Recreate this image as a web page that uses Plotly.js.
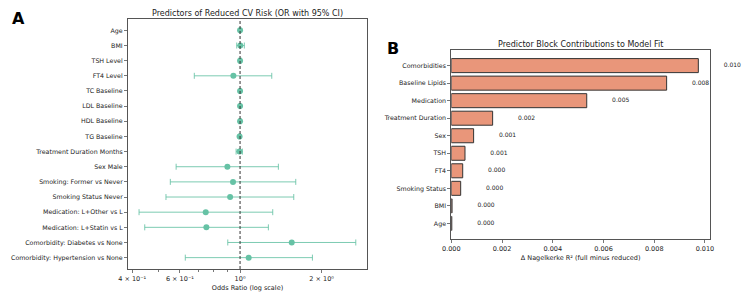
<!DOCTYPE html>
<html>
<head>
<meta charset="utf-8">
<script src="https://cdn.plot.ly/plotly-3.0.1.min.js"></script>
<style>html,body{margin:0;padding:0;background:#fff;}#chart{width:750px;height:300px;}</style>
</head>
<body>
<div id="chart"></div>
<script>
// Panel A: odds ratios with 95% CI
const predictors = ["Age","BMI","TSH Level","FT4 Level","TC Baseline","LDL Baseline","HDL Baseline","TG Baseline","Treatment Duration Months","Sex Male","Smoking: Former vs Never","Smoking Status Never","Medication: L+Other vs L","Medication: L+Statin vs L","Comorbidity: Diabetes vs None","Comorbidity: Hypertension vs None"];
const oddsRatio = [1.000, 1.002, 1.000, 0.945, 1.000, 1.000, 1.000, 0.996, 0.995, 0.898, 0.942, 0.919, 0.747, 0.751, 1.551, 1.076];
const ciLower  = [0.995, 0.972, 0.990, 0.678, 0.993, 0.994, 0.990, 0.990, 0.967, 0.581, 0.553, 0.533, 0.424, 0.445, 0.901, 0.628];
const ciUpper  = [1.005, 1.037, 1.010, 1.309, 1.007, 1.006, 1.010, 1.002, 1.020, 1.385, 1.605, 1.578, 1.320, 1.272, 2.673, 1.849];
const orTickVals = [0.4, 0.6, 1, 2];
const orTickText = ["4 × 10⁻¹", "6 × 10⁻¹", "10⁰", "2 × 10⁰"];
const orMinorTicks = [0.5, 0.7, 0.8, 0.9];

// Panel B: predictor block contributions
const blocks = ["Comorbidities","Baseline Lipids","Medication","Treatment Duration","Sex","TSH","FT4","Smoking Status","BMI","Age"];
const deltaR2 = [0.00974, 0.00849, 0.00534, 0.00163, 0.00088, 0.00054, 0.00045, 0.00037, 0.00003, 0.00002];
const r2TickVals = [0, 0.002, 0.004, 0.006, 0.008, 0.010];

const font = "DejaVu Sans, sans-serif";
const teal = "#66c2a5";

// geometry of panel B x axis (pixels) — used so the label axis shares the same scale
const bLeft = 451.3, bRight = 710, bMax = 0.0102;
const labelRight = 750;
const labelMax = bMax * (labelRight - bLeft) / (bRight - bLeft);

const traceA = {
  type: "scatter", mode: "markers",
  x: oddsRatio, y: predictors,
  xaxis: "x", yaxis: "y",
  marker: {color: teal, size: 6},
  error_x: {
    type: "data", symmetric: false,
    array: oddsRatio.map((v, i) => ciUpper[i] - v),
    arrayminus: oddsRatio.map((v, i) => v - ciLower[i]),
    color: "rgba(102,194,165,0.85)", thickness: 1, width: 3
  },
  hoverinfo: "skip"
};

const traceB = {
  type: "bar", orientation: "h",
  x: deltaR2, y: blocks,
  xaxis: "x2", yaxis: "y2",
  width: 0.8,
  marker: {color: "#e9967a", line: {color: "#333333", width: 1}},
  hoverinfo: "skip"
};

const traceBText = {
  type: "scatter", mode: "text",
  x: deltaR2.map(v => v + 0.001), y: blocks,
  xaxis: "x3", yaxis: "y2",
  text: deltaR2.map(v => v.toFixed(3)),
  textposition: "middle right",
  textfont: {family: font, size: 6, color: "#222"},
  cliponaxis: false,
  hoverinfo: "skip"
};

const axCommon = {
  showline: true, mirror: true, linecolor: "#555", linewidth: 1,
  ticks: "outside", ticklen: 3, tickcolor: "#555", tickwidth: 0.8,
  showgrid: false, zeroline: false,
  tickfont: {family: font, size: 6.3, color: "#222"}
};

const layout = {
  width: 750, height: 300,
  margin: {l: 0, r: 0, t: 0, b: 0},
  paper_bgcolor: "#fff", plot_bgcolor: "rgba(0,0,0,0)",
  showlegend: false,
  font: {family: font, color: "#222"},
  xaxis: Object.assign({}, axCommon, {
    type: "log", domain: [128/750, 367/750], anchor: "y",
    range: [Math.log10(0.386), Math.log10(2.94)],
    tickmode: "array", tickvals: orTickVals, ticktext: orTickText,
    tickfont: {family: font, size: 6.5, color: "#222"},
    minor: {tickmode: "array", tickvals: orMinorTicks, ticks: "outside", ticklen: 2, tickcolor: "#555"},
    title: {text: "Odds Ratio (log scale)", font: {family: font, size: 6.5, color: "#222"}, standoff: 3}
  }),
  yaxis: Object.assign({}, axCommon, {
    type: "category", domain: [1 - 269/300, 1 - 19/300], anchor: "x",
    range: [15.75, -0.75]
  }),
  xaxis2: Object.assign({}, axCommon, {
    domain: [bLeft/750, bRight/750], anchor: "y2",
    range: [0, bMax],
    tickmode: "array", tickvals: r2TickVals, ticktext: r2TickVals.map(v => v.toFixed(3)),
    tickfont: {family: font, size: 6.5, color: "#222"},
    title: {text: "Δ Nagelkerke R² (full minus reduced)", font: {family: font, size: 6.5, color: "#222"}, standoff: 3}
  }),
  xaxis3: {
    domain: [bLeft/750, labelRight/750], anchor: "y2",
    range: [0, labelMax], visible: false, showgrid: false, zeroline: false
  },
  yaxis2: Object.assign({}, axCommon, {
    type: "category", domain: [1 - 239/300, 1 - 50/300], anchor: "x2",
    range: [9.89, -0.89]
  }),
  shapes: [{
    type: "line", xref: "x", yref: "y domain",
    x0: 1, x1: 1, y0: 0, y1: 1,
    line: {color: "#333", width: 1, dash: "3px,2px"}
  }],
  annotations: [
    {text: "Predictors of Reduced CV Risk (OR with 95% CI)", xref: "paper", yref: "paper",
     x: 247.5/750, y: 1 - 13/300, xanchor: "center", yanchor: "middle", showarrow: false,
     font: {family: font, size: 8, color: "#222"}},
    {text: "Predictor Block Contributions to Model Fit", xref: "paper", yref: "paper",
     x: 580.5/750, y: 1 - 44/300, xanchor: "center", yanchor: "middle", showarrow: false,
     font: {family: font, size: 8, color: "#222"}},
    {text: "<b>A</b>", xref: "paper", yref: "paper", x: 18/750, y: 1 - 18/300,
     xanchor: "center", yanchor: "middle", showarrow: false,
     font: {family: font, size: 16, color: "#000"}},
    {text: "<b>B</b>", xref: "paper", yref: "paper", x: 393/750, y: 1 - 48/300,
     xanchor: "center", yanchor: "middle", showarrow: false,
     font: {family: font, size: 16, color: "#000"}}
  ]
};

Plotly.newPlot("chart", [traceA, traceB, traceBText], layout, {staticPlot: true, displayModeBar: false});
</script>
</body>
</html>
